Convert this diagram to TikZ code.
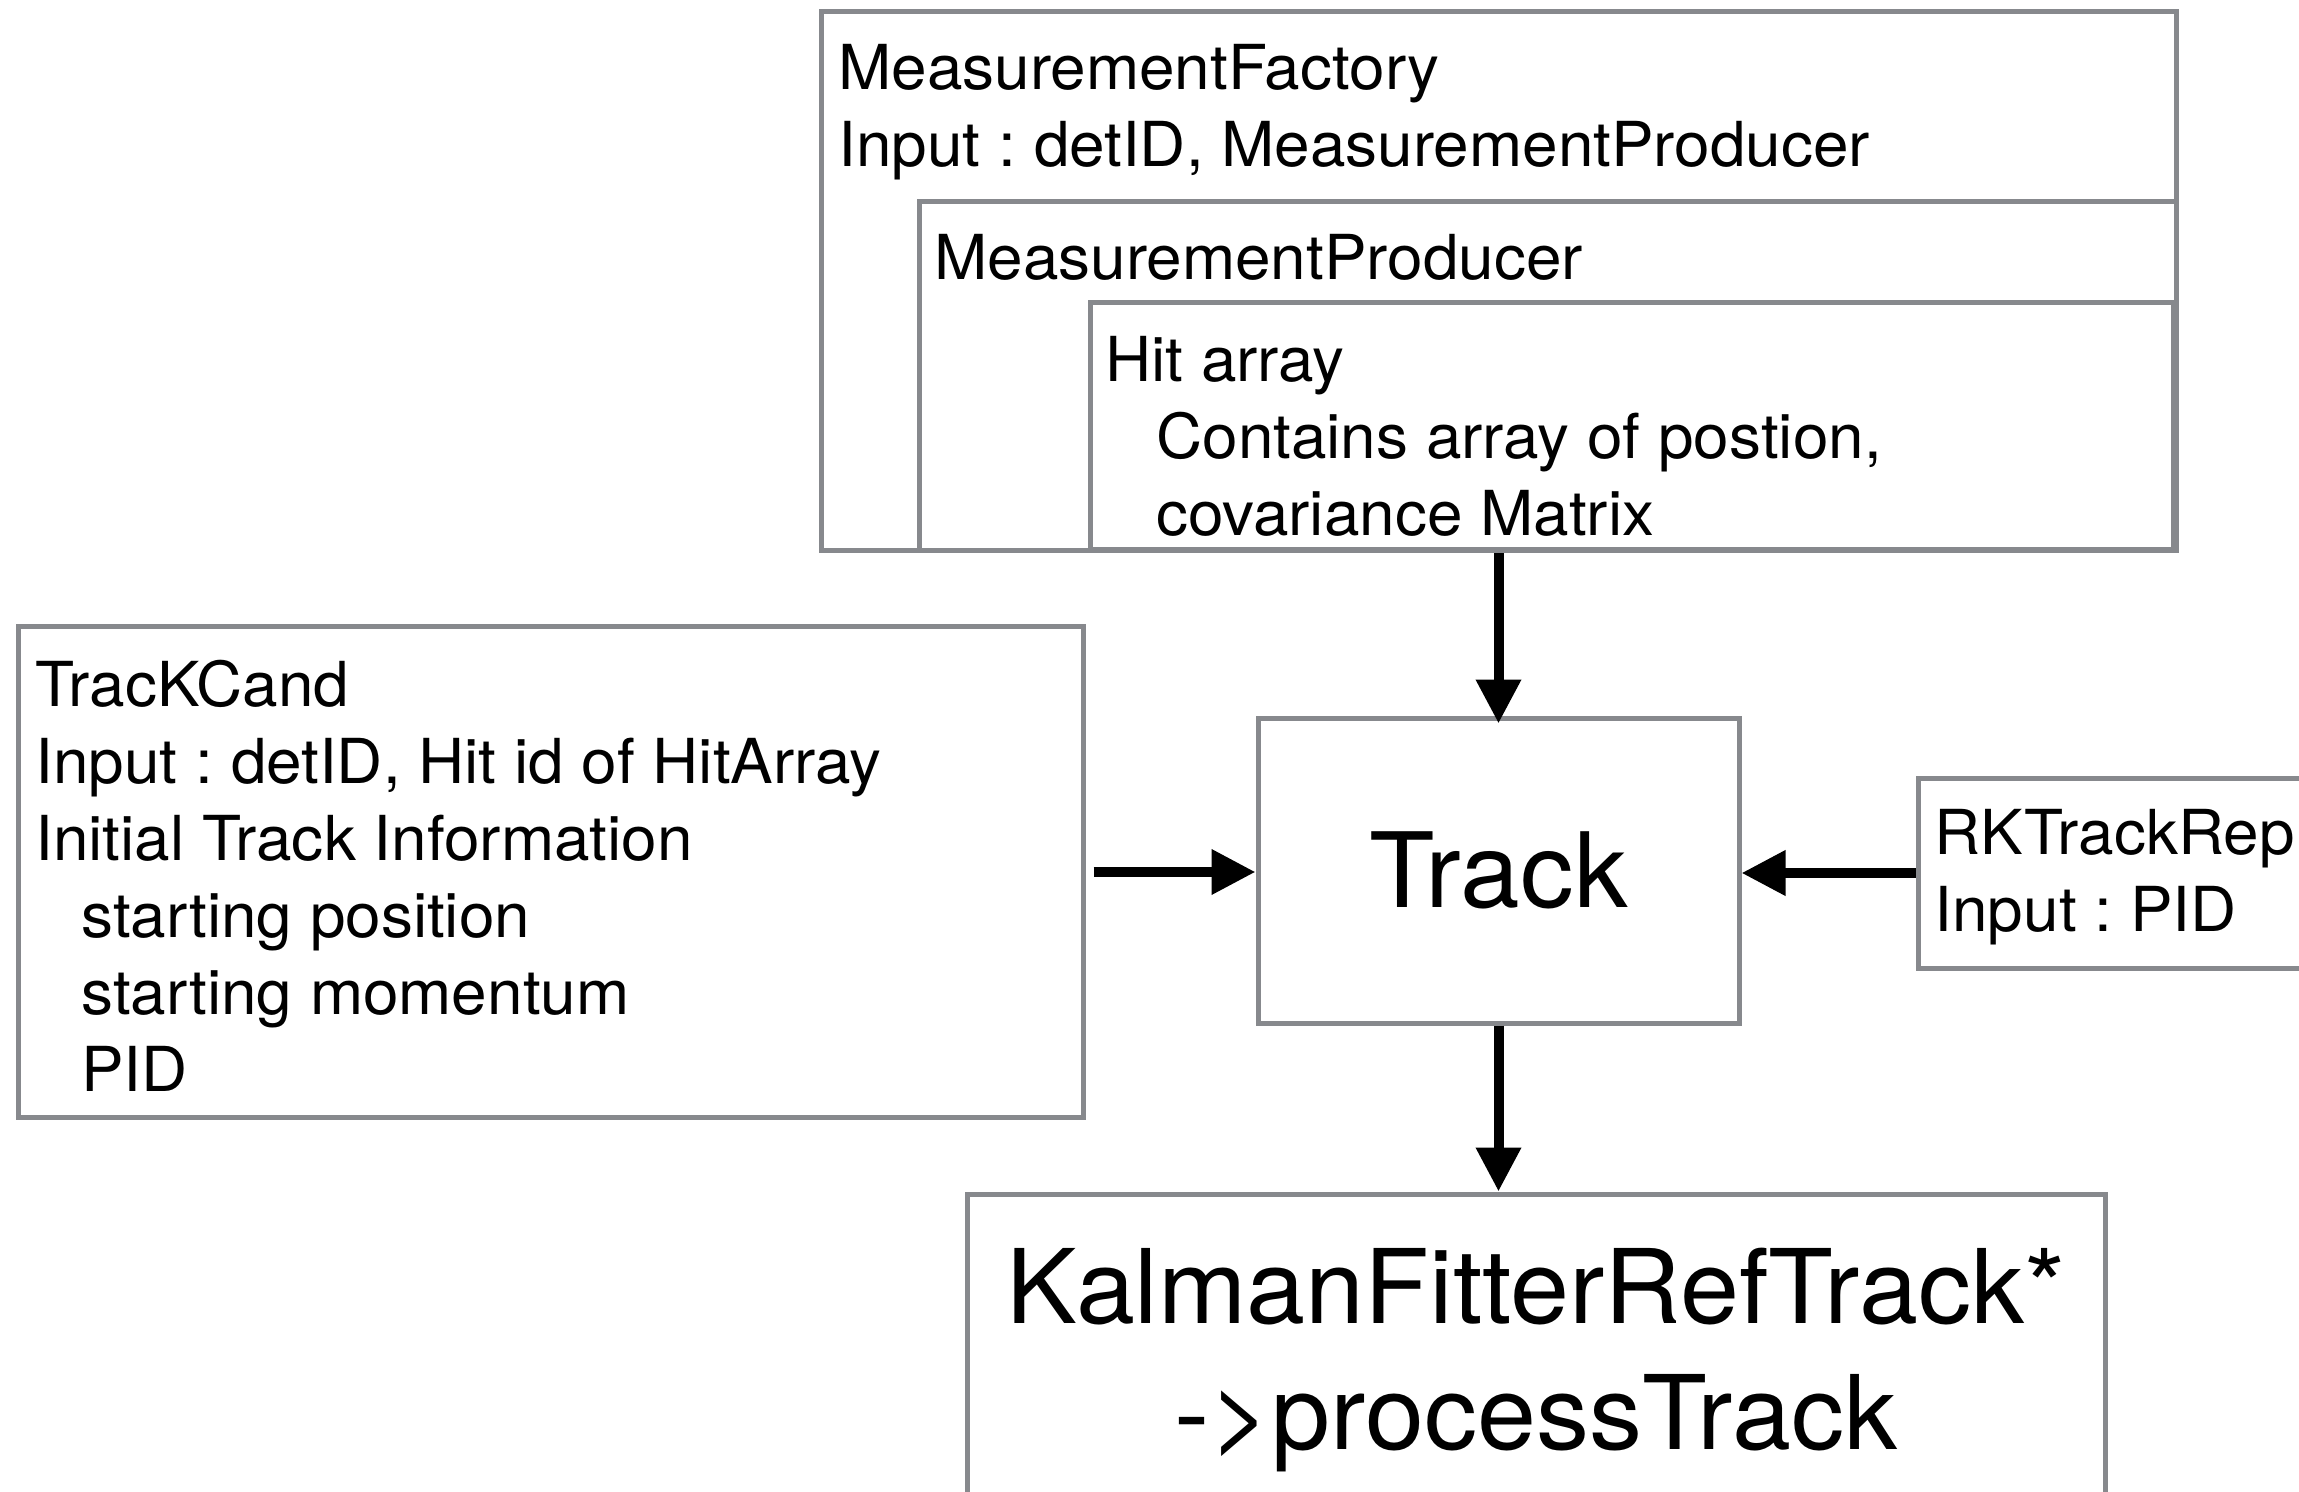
\documentclass[tikz,border=0pt]{standalone}
\usepackage{fontspec}
\setmainfont[FakeStretch=1.03]{TeX Gyre Heros}
\frenchspacing
\usetikzlibrary{arrows.meta,fit}
\definecolor{boxgray}{RGB}{135,137,141}
\begin{document}
\begin{tikzpicture}[x=0.5pt,y=-0.5pt,
  box/.style={draw=boxgray,line width=2.5pt,inner sep=0pt},
  txt/.style={inner sep=0pt,align=left,anchor=north west,font=\fontsize{31}{38.5}\selectfont},
  conn/.style={line width=5pt,-{Triangle[length=22pt,width=21.5pt]}}]
\fill[white] (0,0) rectangle (2299,1492);
\useasboundingbox (0,0) rectangle (2299,1492);
% nested boxes
\node[box,fit={(821,12)(2176,551)}] (mf) {};
\node[box,fit={(919,202)(2176,551)}] (mp) {};
\node[box,fit={(1090,303)(2173,550)}] (hit) {};
\node[txt] (mftxt) at (838,43.5) {MeasurementFactory\\Input : detID, MeasurementProducer};
\node[txt] (mptxt) at (934,233.5) {MeasurementProducer};
\node[txt] (hittxt) at (1105,335.5) {Hit array\\\hspace*{25.5pt}Contains array of postion,\\\hspace*{25.5pt}covariance Matrix};
% left box
\node[box,fit={(18,627)(1083,1117)}] (tc) {};
\node[txt] (tctxt) at (35,659.5) {TracKCand\\Input : detID, Hit id of HitArray\\Initial Track Information\\\hspace*{23pt}starting position\\\hspace*{23pt}starting momentum\\\hspace*{23pt}PID};
% track
\node[box,fit={(1258,718)(1739,1023)}] (track) {};
\node[inner sep=0pt,font=\fontsize{52}{62}\selectfont] (tracktxt) at (track.center) {Track};
% right box
\node[box,fit={(1918,778)(2330,968)}] (rk) {};
\node[txt] (rktxt) at (1934,808.5) {RKTrackRep\\Input : PID};
% bottom box
\node[box,fit={(967,1194)(2105,1520)}] (kf) {};
\node[inner sep=0pt,align=center,anchor=north,font=\fontsize{51.5}{63}\selectfont] (kftxt) at (1536,1248) {KalmanFitterRefTrack*\\->processTrack};
% connectors
\draw[conn,shorten >=-4pt] (mf.south) -- (track.north);
\draw[conn] ([xshift=4pt]tc.east) -- (tc.east -| track.west);
\draw[conn] (rk.west) -- (rk.west -| track.east);
\draw[conn] (track.south) -- (track.south |- kf.north);
\end{tikzpicture}
\end{document}
